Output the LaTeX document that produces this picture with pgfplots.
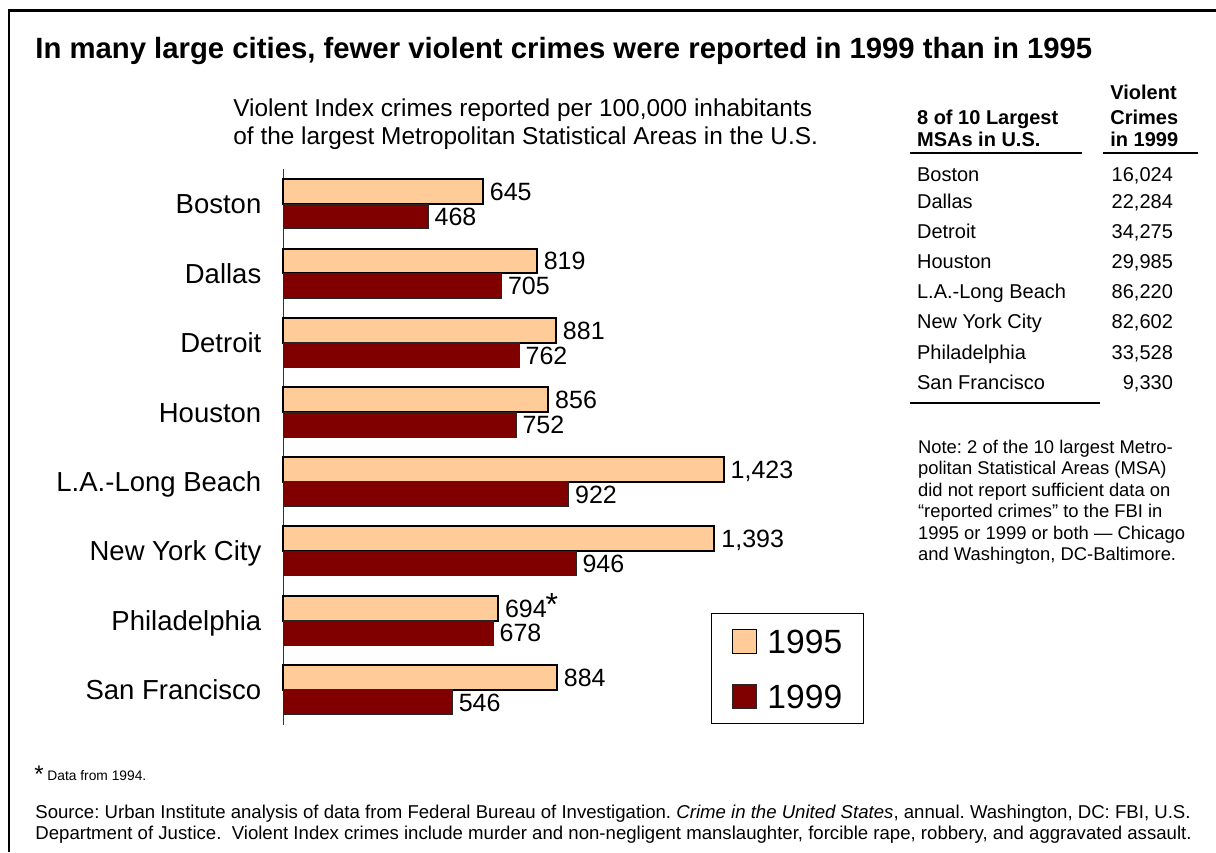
\documentclass[border=0pt]{standalone}
\usepackage{fontspec}
\setmainfont{Liberation Sans}
\usepackage{pgfplots}
\pgfplotsset{compat=1.18}
\definecolor{c95}{HTML}{FFCC99}
\definecolor{c99}{HTML}{800000}
\newcommand{\fs}[1]{\fontsize{#1pt}{#1pt}\selectfont}
\frenchspacing

\begin{document}
\begin{tikzpicture}
\useasboundingbox (0,0) rectangle (608pt,-426pt);
\begin{axis}[
  at={(141.65pt,-84.65pt)}, anchor=north west,
  scale only axis, width=300pt, height=277.7pt,
  xmin=0, xmax=1938.6, ymin=-0.5, ymax=7.5,
  enlargelimits=false, clip=false,
  xbar, bar width=12.4pt,
  axis y line=left, axis x line=none,
  axis line style={-, black!80, line width=0.6pt},
  xtick=\empty,
  ytick={0,...,7},
  yticklabels={San Francisco,Philadelphia,New York City,L.A.-Long Beach,Houston,Detroit,Dallas,Boston},
  major tick length=0pt,
  yticklabel style={font=\fs{13.75}, anchor=east, inner sep=0pt, xshift=-10.8pt, text height=9.85pt, text depth=0pt},
  point meta=x,
  nodes near coords={\pgfmathprintnumber[assume math mode=true,1000 sep={,}]{\pgfplotspointmeta}},
  nodes near coords style={font=\fs{12.5}, anchor=west, inner sep=0pt, xshift=3pt, text height=8.95pt, text depth=0pt, black},
  legend style={at={(0.7128,0.2006)}, anchor=north west, draw=black, line width=0.5pt, fill=white,
    font=\fs{16.8}, inner xsep=10.5pt, inner ysep=7.5pt, row sep=15pt,
    nodes={inner sep=0pt, text depth=0pt},
    /tikz/every odd column/.append style={column sep=5pt}},
  legend image code/.code={\draw[#1, line width=0.5pt] (0pt,-6pt) rectangle (12pt,6pt);},
  legend cell align=left,
]
% 1995, Boston = 7 ... San Francisco = 0
\addplot[fill=c95, draw=black, line width=1pt, bar shift=6.2pt] coordinates {
  (645,7) (819,6) (881,5) (856,4) (1423,3) (1393,2) (694,1) (884,0)};
\addplot[fill=c99, draw=black!85, line width=0.5pt, bar shift=-6.2pt] coordinates {
  (468,7) (705,6) (762,5) (752,4) (922,3) (946,2) (678,1) (546,0)};
\legend{1995,1999}
% 1994 figure for Philadelphia
\node[font=\fs{16}, anchor=base west, inner sep=0pt, xshift=23.6pt, yshift=2.7pt] at (axis cs:694,1) {*};
\end{axis}

\begin{scope}[x=0.5pt, y=-0.5pt, every node/.style={inner sep=0pt, anchor=base west}]
  % frame
  \draw[line width=1.2pt] (8.7,852) -- (8.7,10.3) -- (1216,10.3);
  % title and subtitle
  \node[font=\bfseries\fs{14.65}] at (35,58.5) {In many large cities, fewer violent crimes were reported in 1999 than in 1995};
  \node[font=\fs{12.2}] at (233,116.7) {Violent Index crimes reported per 100,000 inhabitants};
  \node[font=\fs{12.2}] at (233,144.7) {of the largest Metropolitan Statistical Areas in the U.S.};
  % table
  \begin{scope}[every node/.append style={font=\bfseries\fs{10}}]
    \node at (1110,99.3) {Violent};
    \node at (1110,124) {Crimes};
    \node at (1110,146.7) {in 1999};
    \node at (916.7,124) {8 of 10 Largest};
    \node at (916.7,146.7) {MSAs in U.S.};
  \end{scope}
  \draw[line width=1pt] (910,153.3) -- (1082.3,153.3);
  \draw[line width=1pt] (1103.3,153.3) -- (1198.3,153.3);
  \begin{scope}[every node/.append style={font=\fs{10}}]
    \node at (916.7,181.7) {Boston};          \node[anchor=base east] at (1173.3,181.7) {16,024};
    \node at (916.7,208.3) {Dallas};          \node[anchor=base east] at (1173.3,208.3) {22,284};
    \node at (916.7,238.3) {Detroit};         \node[anchor=base east] at (1173.3,238.3) {34,275};
    \node at (916.7,268.3) {Houston};         \node[anchor=base east] at (1173.3,268.3) {29,985};
    \node at (916.7,298.6) {L.A.-Long Beach}; \node[anchor=base east] at (1173.3,298.6) {86,220};
    \node at (916.7,328.9) {New York City};   \node[anchor=base east] at (1173.3,328.9) {82,602};
    \node at (916.7,359.2) {Philadelphia};    \node[anchor=base east] at (1173.3,359.2) {33,528};
    \node at (916.7,389.5) {San Francisco};   \node[anchor=base east] at (1173.3,389.5) {9,330};
  \end{scope}
  \draw[line width=1pt] (910,403) -- (1100,403);
  % note
  \begin{scope}[every node/.append style={font=\fs{9.2}}]
    \node at (917.7,453.3) {Note: 2 of the 10 largest Metro-};
    \node at (917.7,474.8) {politan Statistical Areas (MSA)};
    \node at (917.7,496.3) {did not report sufficient data on};
    \node at (917.7,517.8) {“reported crimes” to the FBI in};
    \node at (917.7,539.3) {1995 or 1999 or both — Chicago};
    \node at (917.7,560.8) {and Washington, DC-Baltimore.};
  \end{scope}
  % footnotes
  \node[font=\fs{12}] at (34,782) {*};
  \node[font=\fs{6.9}] at (47,780) {Data from 1994.};
  \node[font=\fs{9.3}] at (35,818.7) {Source: Urban Institute analysis of data from Federal Bureau of Investigation. \textit{Crime in the United States}, annual. Washington, DC: FBI, U.S.};
  \node[font=\fs{9.3}] at (35,839.7) {Department of Justice.\ \ Violent Index crimes include murder and non-negligent manslaughter, forcible rape, robbery, and aggravated assault.};
\end{scope}
\end{tikzpicture}
\end{document}
